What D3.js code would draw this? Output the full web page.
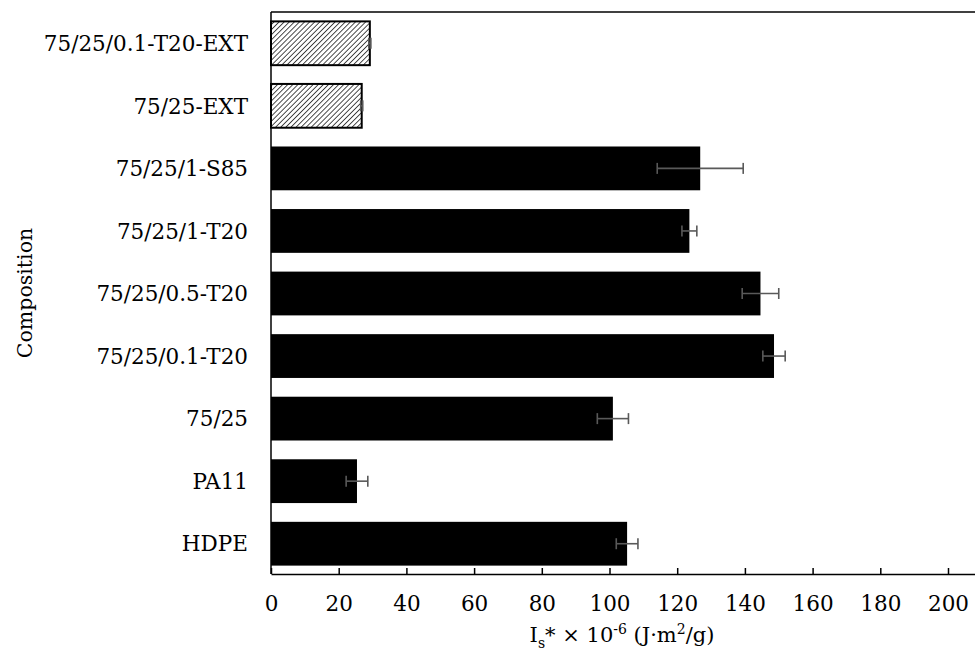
<!DOCTYPE html>
<html>
<head>
<meta charset="utf-8">
<script src="https://cdn.jsdelivr.net/npm/d3@7/dist/d3.min.js"></script>
<style>
  html, body { margin: 0; padding: 0; background: #fff; }
  svg { display: block; }
  text { font-family: "DejaVu Serif", "Liberation Serif", serif; fill: #000; }
</style>
</head>
<body>
<svg id="chart" width="975" height="658"></svg>
<script>
// Compositions, listed bottom to top
const categories = ["HDPE", "PA11", "75/25", "75/25/0.1-T20", "75/25/0.5-T20",
                    "75/25/1-T20", "75/25/1-S85", "75/25-EXT", "75/25/0.1-T20-EXT"];
const values = [105.2, 25.4, 101.0, 148.6, 144.6, 123.6, 126.8, 26.8, 29.2];
const errors = [3.2, 3.2, 4.6, 3.3, 5.4, 2.2, 12.7, 0.3, 0.3];
const extruded = [false, false, false, false, false, false, false, true, true];
const xTicks = [0, 20, 40, 60, 80, 100, 120, 140, 160, 180, 200];

const svg = d3.select("#chart");
const plotLeft = 271, plotTop = 12, plotBottom = 574;

const x = d3.scaleLinear().domain([0, 220]).range([plotLeft, plotLeft + 220 * 3.385]);
const y = d3.scaleBand()
  .domain(categories.slice().reverse())
  .range([plotTop, plotBottom + 1])
  .paddingInner(0.3)
  .paddingOuter(0.15);

// Diagonal hatch for the extruded samples
const defs = svg.append("defs");
const pat = defs.append("pattern")
  .attr("id", "hatch")
  .attr("patternUnits", "userSpaceOnUse")
  .attr("width", 3.6).attr("height", 3.6)
  .attr("patternTransform", "rotate(45)");
pat.append("rect").attr("width", 3.6).attr("height", 3.6).attr("fill", "#fff");
pat.append("line").attr("x1", 0).attr("y1", 0).attr("x2", 0).attr("y2", 3.6)
  .attr("stroke", "#000").attr("stroke-width", 1.4);

const rows = categories.map((c, i) => ({ c, v: values[i], e: errors[i], ext: extruded[i] }));

// Bars
svg.append("g").selectAll("rect").data(rows).join("rect")
  .attr("x", x(0))
  .attr("y", d => y(d.c))
  .attr("width", d => x(d.v) - x(0))
  .attr("height", y.bandwidth())
  .attr("fill", d => d.ext ? "url(#hatch)" : "#000")
  .attr("stroke", d => d.ext ? "#000" : "none")
  .attr("stroke-width", 2);

// Error bars
const eb = svg.append("g").attr("stroke", "#595959").attr("stroke-width", 1.6).attr("fill", "none");
rows.forEach(d => {
  const cy = y(d.c) + y.bandwidth() / 2;
  const x0 = x(d.v - d.e), x1 = x(d.v + d.e);
  eb.append("line").attr("x1", x0).attr("x2", x1).attr("y1", cy).attr("y2", cy);
  [x0, x1].forEach(xx => eb.append("line").attr("x1", xx).attr("x2", xx)
    .attr("y1", cy - 5.5).attr("y2", cy + 5.5));
});

// Frame: top line, left axis, bottom axis
const frame = svg.append("g").attr("stroke", "#000").attr("stroke-width", 1.5);
frame.append("line").attr("x1", plotLeft).attr("x2", 975).attr("y1", plotTop).attr("y2", plotTop);
frame.append("line").attr("x1", plotLeft).attr("x2", plotLeft).attr("y1", plotTop).attr("y2", plotBottom);

const xAxis = d3.axisBottom(x).tickValues(xTicks).tickSizeInner(-6).tickSizeOuter(0)
  .tickPadding(22).tickFormat(d3.format("d"));
const gx = svg.append("g").attr("transform", `translate(0,${plotBottom})`).call(xAxis);
gx.select(".domain").attr("stroke", "#000").attr("stroke-width", 1.5);
gx.selectAll(".tick line").attr("stroke", "#000").attr("stroke-width", 1.5);
gx.selectAll(".tick text")
  .attr("font-family", "DejaVu Serif")
  .attr("font-size", 21.5)
  .attr("fill", "#000");

// Category labels
svg.append("g").selectAll("text").data(categories).join("text")
  .attr("x", 248)
  .attr("y", d => y(d) + y.bandwidth() / 2)
  .attr("dy", "0.36em")
  .attr("text-anchor", "end")
  .attr("font-size", 21.5)
  .text(d => d);

// Axis titles
const xt = svg.append("text")
  .attr("x", 622).attr("y", 642)
  .attr("text-anchor", "middle")
  .attr("font-size", 21);
xt.append("tspan").text("I");
xt.append("tspan").attr("font-size", 14).attr("dy", 6).text("s");
xt.append("tspan").attr("dy", -6).text("* \u00d7 10");
xt.append("tspan").attr("font-size", 14).attr("dy", -8).text("-6");
xt.append("tspan").attr("dy", 8).text(" (J\u00b7m");
xt.append("tspan").attr("font-size", 14).attr("dy", -8).text("2");
xt.append("tspan").attr("dy", 8).text("/g)");

svg.append("text")
  .attr("transform", `translate(32,${(plotTop + plotBottom) / 2}) rotate(-90)`)
  .attr("text-anchor", "middle")
  .attr("font-size", 20.5)
  .text("Composition");
</script>
</body>
</html>
